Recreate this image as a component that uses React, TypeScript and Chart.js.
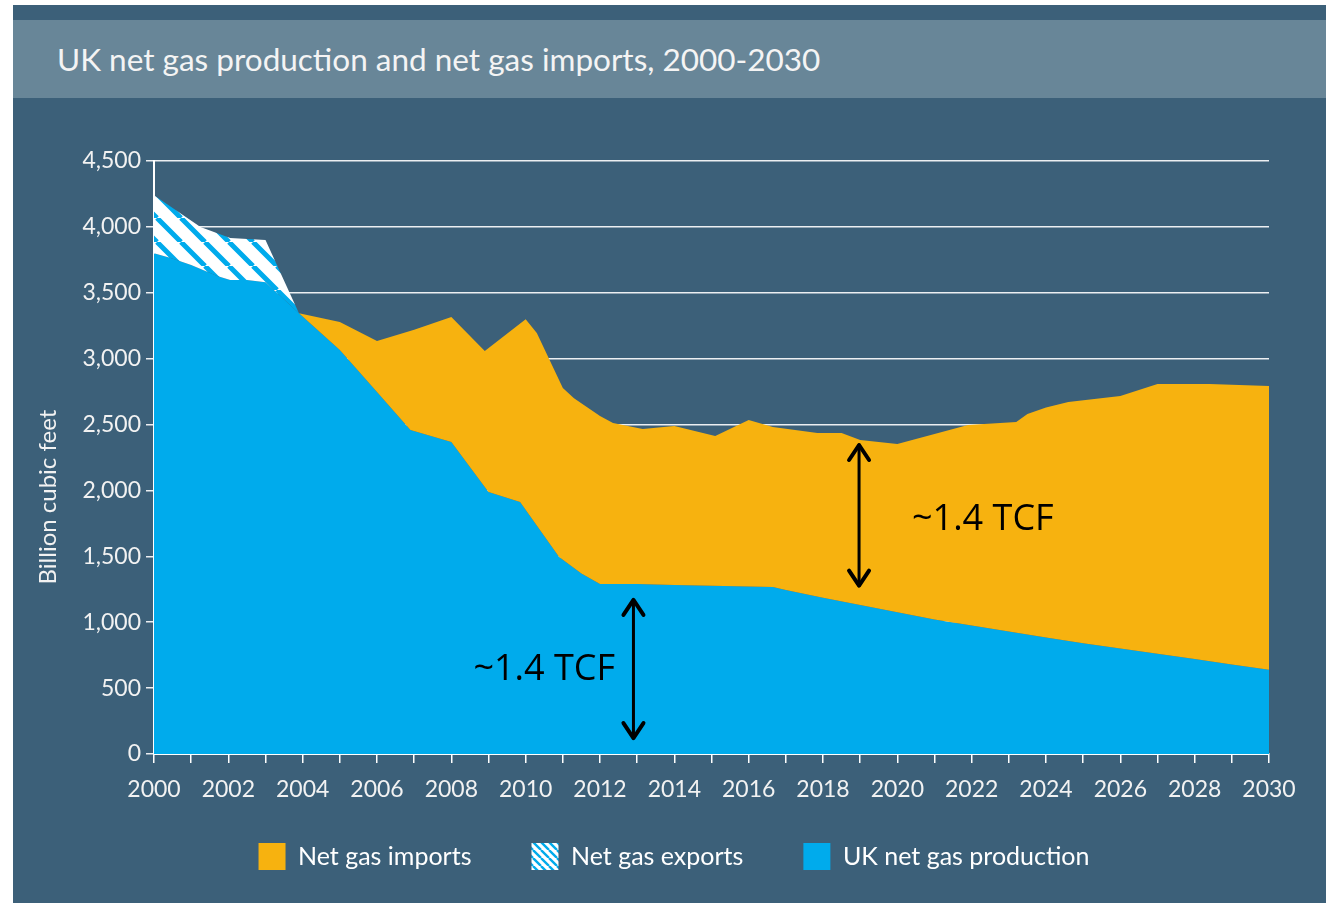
import React, { useEffect, useRef } from "react";
import { Chart, registerables } from "chart.js";

Chart.register(...registerables);

// ---- Data (billion cubic feet) ----
const productionYears = [2000, 2000.45, 2001, 2001.7, 2002.05, 2002.5, 2003, 2003.9, 2005, 2006, 2006.9, 2008, 2009, 2009.85, 2010.9, 2011.5, 2012, 2013, 2014, 2015, 2016, 2016.65, 2017, 2018, 2019, 2020, 2021, 2022, 2023, 2024, 2025, 2026, 2027, 2028, 2029, 2030];
const productionValues = [3800, 3764, 3710, 3627, 3597, 3597, 3580, 3345, 3066, 2747, 2459, 2367, 1988, 1912, 1495, 1370, 1290, 1290, 1282, 1276, 1272, 1267, 1245, 1185, 1130, 1075, 1020, 975, 930, 885, 840, 800, 760, 720, 680, 640];

const exportYears = [2000, 2001.25, 2002.05, 2003, 2003.9];
const exportTotals = [4240, 4000, 3915, 3900, 3345];

const importYears = [2003.9, 2005, 2006, 2007, 2008, 2008.9, 2010, 2010.3, 2011, 2011.3, 2012, 2012.35, 2013.15, 2014, 2015.1, 2016, 2016.65, 2017.85, 2018.5, 2019, 2020, 2021.9, 2023.2, 2023.5, 2024, 2024.6, 2026, 2027, 2028.4, 2030];
const importTotals = [3345, 3278, 3134, 3220, 3316, 3058, 3300, 3195, 2777, 2700, 2565, 2512, 2466, 2489, 2413, 2534, 2481, 2436, 2436, 2383, 2352, 2497, 2519, 2580, 2630, 2671, 2716, 2808, 2808, 2792];

const seriesLabels = ["Net gas imports", "Net gas exports", "UK net gas production"];

// annotations (data units)
const arrowYears = [2012.9, 2018.97];
const arrowTops = [1184, 2360];
const arrowBottoms = [106, 1262];
const noteYears = [2010.5, 2022.3];
const noteValues = [640, 1776];
const noteText = "~1.4 TCF";

const TITLE = "UK net gas production and net gas imports, 2000-2030";
const Y_TITLE = "Billion cubic feet";
const Y_TITLE_CENTER = 1950; // value at which the axis title is centred

const PANEL = "#3C6079";
const TITLE_BAR = "#688698";
const ORANGE = "#F7B20F";
const BLUE = "#00ABEC";
const FONT = "Lato, 'Open Sans', sans-serif";

function makeHatch(size: number, lineW: number): CanvasPattern | string {
  const c = document.createElement("canvas");
  c.width = size;
  c.height = size;
  const g = c.getContext("2d");
  if (!g) return "#fff";
  g.fillStyle = "#ffffff";
  g.fillRect(0, 0, size, size);
  g.strokeStyle = BLUE;
  g.lineWidth = lineW;
  g.beginPath();
  for (const o of [-size, 0, size]) {
    g.moveTo(o, 0);
    g.lineTo(o + size, size);
  }
  g.stroke();
  return g.createPattern(c, "repeat") || "#fff";
}

const toPoints = (xs: number[], ys: number[]) => xs.map((x, i) => ({ x, y: ys[i] }));

const legendShift = {
  id: "legendShift",
  afterLayout(chart: any) {
    const lg = chart.legend;
    if (!lg) return;
    lg.top -= 23;
    lg.bottom -= 23;
    lg.left += 33;
    lg.right += 33;
  },
};

const yTitlePlugin = {
  id: "yTitle",
  afterDraw(chart: any) {
    const { ctx, scales } = chart;
    ctx.save();
    ctx.translate(35, scales.y.getPixelForValue(Y_TITLE_CENTER));
    ctx.rotate(-Math.PI / 2);
    ctx.fillStyle = "#f2f2f2";
    ctx.font = "24px " + FONT;
    ctx.textAlign = "center";
    ctx.textBaseline = "middle";
    ctx.fillText(Y_TITLE, 0, 0);
    ctx.restore();
  },
};

const annotationPlugin = {
  id: "tcfNotes",
  afterDatasetsDraw(chart: any) {
    const { ctx, scales } = chart;
    const xs = scales.x;
    const ys = scales.y;
    ctx.save();
    ctx.strokeStyle = "#000";
    ctx.fillStyle = "#000";
    ctx.lineCap = "round";
    ctx.lineJoin = "round";
    arrowYears.forEach((yr, i) => {
      const x = xs.getPixelForValue(yr);
      const yTop = ys.getPixelForValue(arrowTops[i]);
      const yBot = ys.getPixelForValue(arrowBottoms[i]);
      ctx.lineWidth = 3;
      ctx.beginPath();
      ctx.moveTo(x, yTop + 2);
      ctx.lineTo(x, yBot - 2);
      ctx.stroke();
      ctx.lineWidth = 4;
      ctx.beginPath();
      ctx.moveTo(x - 10, yTop + 17);
      ctx.lineTo(x, yTop + 2);
      ctx.lineTo(x + 10, yTop + 17);
      ctx.moveTo(x - 10, yBot - 17);
      ctx.lineTo(x, yBot - 2);
      ctx.lineTo(x + 10, yBot - 17);
      ctx.stroke();
    });
    ctx.font = "36px 'Open Sans', sans-serif";
    ctx.textAlign = "center";
    ctx.textBaseline = "middle";
    noteYears.forEach((yr, i) => {
      ctx.fillText(noteText, xs.getPixelForValue(yr), ys.getPixelForValue(noteValues[i]));
    });
    ctx.restore();
  },
};

export default function App() {
  const canvasRef = useRef<HTMLCanvasElement | null>(null);

  useEffect(() => {
    if (!canvasRef.current) return;
    const hatch = makeHatch(24, 5);
    const hatchSmall = makeHatch(8, 2.4);

    const chart = new Chart(canvasRef.current, {
      type: "line",
      data: {
        datasets: [
          {
            label: seriesLabels[0],
            data: toPoints(importYears, importTotals),
            fill: 2,
            backgroundColor: ORANGE,
            borderColor: "transparent",
            borderWidth: 0,
            pointRadius: 0,
            tension: 0,
          },
          {
            label: seriesLabels[1],
            data: toPoints(exportYears, exportTotals),
            fill: 2,
            backgroundColor: hatch as any,
            borderColor: "transparent",
            borderWidth: 0,
            pointRadius: 0,
            tension: 0,
          },
          {
            label: seriesLabels[2],
            data: toPoints(productionYears, productionValues),
            fill: "origin",
            backgroundColor: BLUE,
            borderColor: "transparent",
            borderWidth: 0,
            pointRadius: 0,
            tension: 0,
          },
        ],
      },
      options: {
        animation: false,
        responsive: true,
        maintainAspectRatio: false,
        layout: { padding: { left: 0, right: 57, top: 63, bottom: 0 } },
        plugins: {
          tooltip: { enabled: false },
          title: { display: false },
          legend: {
            position: "bottom",
            maxHeight: 97,
            labels: {
              color: "#ffffff",
              font: { family: FONT, size: 25 },
              boxWidth: 27,
              boxHeight: 27,
              padding: 60,
              generateLabels(ch: any) {
                const items = Chart.defaults.plugins.legend.labels.generateLabels(ch);
                items.forEach((it: any, i: number) => {
                  it.lineWidth = 0;
                  it.strokeStyle = "transparent";
                  it.fillStyle = i === 1 ? hatchSmall : it.fillStyle;
                });
                return items;
              },
            },
            onClick: () => {},
          } as any,
        },
        scales: {
          x: {
            type: "linear",
            min: 2000,
            max: 2030,
            afterFit(scale: any) {
              scale.height = 52;
            },
            grid: {
              display: true,
              drawOnChartArea: false,
              drawTicks: true,
              tickLength: 9,
              color: "#ffffff",
              lineWidth: 1.5,
            },
            border: { display: true, color: "#ffffff", width: 2 },
            ticks: {
              stepSize: 1,
              autoSkip: false,
              maxRotation: 0,
              color: "#f2f2f2",
              padding: 13,
              font: { family: FONT, size: 23 },
              callback: (v: any) => (Number(v) % 2 === 0 ? String(v) : ""),
            },
          },
          y: {
            min: 0,
            max: 4500,
            afterFit(scale: any) {
              scale.width = 141;
            },
            grid: {
              color: "rgba(255,255,255,0.9)",
              lineWidth: 1.5,
              drawTicks: true,
              tickLength: 8,
            },
            border: { display: true, color: "#ffffff", width: 2 },
            title: { display: false },
            ticks: {
              stepSize: 500,
              color: "#f2f2f2",
              padding: 5,
              font: { family: FONT, size: 23 },
              callback: (v: any) => Number(v).toLocaleString("en-US"),
            },
          },
        },
      } as any,
      plugins: [legendShift, yTitlePlugin, annotationPlugin],
    });
    return () => chart.destroy();
  }, []);

  return (
    <div
      style={{
        position: "fixed",
        left: 13,
        top: 5,
        width: 1313,
        height: 898,
        background: PANEL,
        overflow: "hidden",
      }}
    >
      <div
        style={{
          position: "absolute",
          left: 0,
          top: 15,
          width: "100%",
          height: 78,
          background: TITLE_BAR,
          color: "#f4f4f4",
          fontFamily: FONT,
          fontSize: 31.5,
          lineHeight: "78px",
          paddingLeft: 44,
          boxSizing: "border-box",
          whiteSpace: "nowrap",
        }}
      >
        {TITLE}
      </div>
      <div style={{ position: "absolute", left: 0, top: 93, width: 1313, height: 805 }}>
        <canvas ref={canvasRef} />
      </div>
    </div>
  );
}
